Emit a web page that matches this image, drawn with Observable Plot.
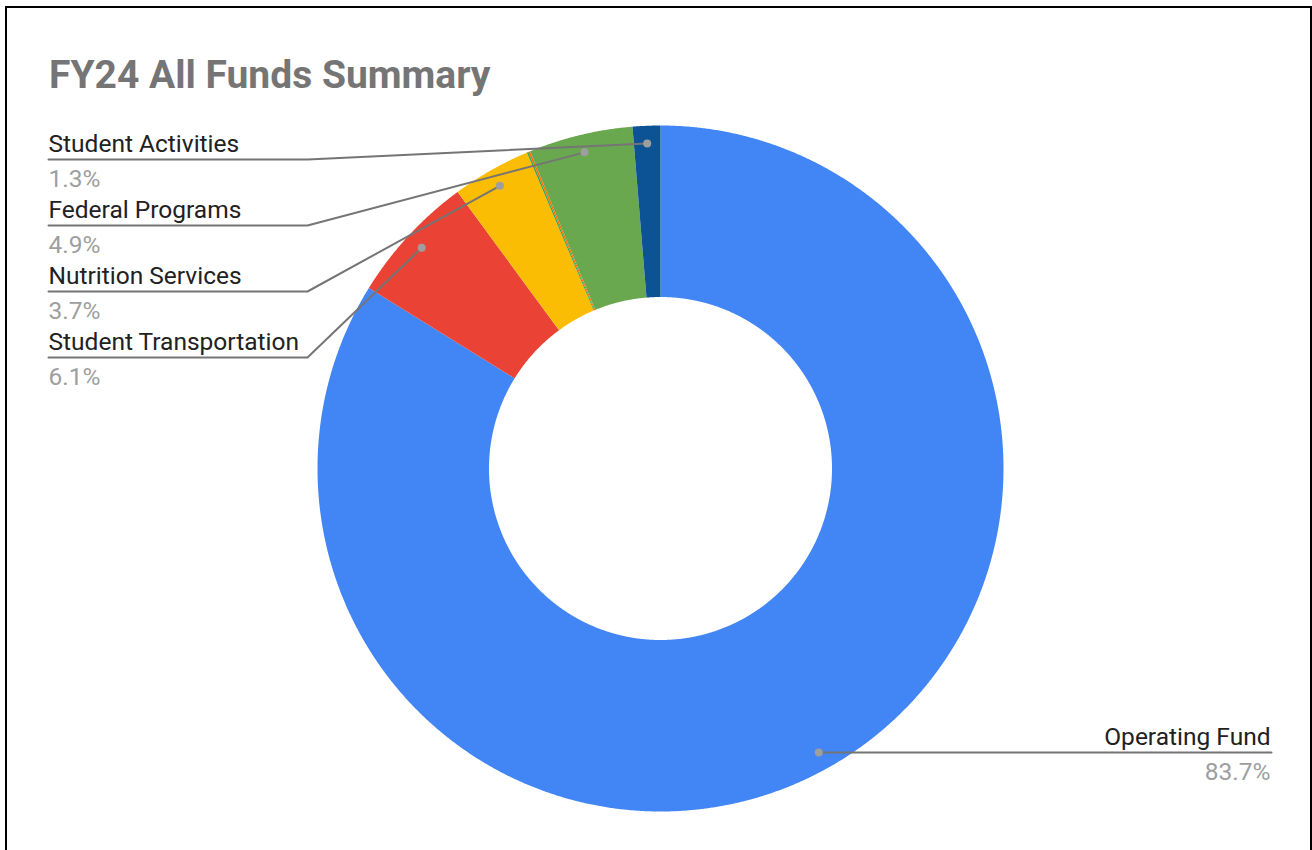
<!DOCTYPE html>
<html>
<head>
<meta charset="utf-8">
<script src="https://cdn.jsdelivr.net/npm/d3@7"></script>
<script src="https://cdn.jsdelivr.net/npm/@observablehq/plot@0.6"></script>
<style>
  html, body { margin: 0; padding: 0; background: #fff; }
  body { width: 1312px; height: 850px; overflow: hidden; position: relative; font-family: Roboto, "Noto Sans", sans-serif; }
  #frame { position: absolute; left: 5px; top: 6px; width: 1307px; height: 900px; border: 2px solid #000; box-sizing: border-box; }
  #title { position: absolute; left: 49px; top: 56px; font-family: Roboto, sans-serif; font-weight: 700; font-size: 39px; line-height: 39px; color: #757575; white-space: nowrap; }
  #chart { position: absolute; left: 0; top: 100px; }
</style>
</head>
<body>
<div id="frame"></div>
<div id="title">FY24 All Funds Summary</div>
<div id="chart"></div>
<script>
// ---- data (percent of all funds, clockwise from 12 o'clock) ----
const categories = ["Operating Fund", "Student Transportation", "Nutrition Services", "Other (a)", "Other (b)", "Federal Programs", "Student Activities"];
const shares = [83.7, 6.1, 3.7, 0.08, 0.08, 4.9, 1.3];
const colors = ["#4285F4", "#EA4335", "#FBBC04", "#34A853", "#FF6D01", "#6AA84F", "#0B5394"];
const leftLabels = ["Student Activities", "Federal Programs", "Nutrition Services", "Student Transportation"];
const rightLabels = ["Operating Fund"];

// ---- layout (page pixels) ----
const W = 1312, H = 750, TOP = 100;
const CX = 660, CY = 468, R = 343, INNER = 0.5, DOT_R = 0.948;
const ux = px => (px - CX) / R;
const uy = py => (CY - py) / R;

const arcs = d3.pie().sort(null).value(d => d)(shares);

// slice outlines in unit coordinates
const ring = [];
arcs.forEach((a, i) => {
  const n = Math.max(2, Math.ceil((a.endAngle - a.startAngle) / 0.004));
  for (let k = 0; k <= n; k++) {
    const t = a.startAngle + (a.endAngle - a.startAngle) * k / n;
    ring.push({name: categories[i], x: Math.sin(t), y: Math.cos(t)});
  }
  for (let k = n; k >= 0; k--) {
    const t = a.startAngle + (a.endAngle - a.startAngle) * k / n;
    ring.push({name: categories[i], x: INNER * Math.sin(t), y: INNER * Math.cos(t)});
  }
});

// label anchors
const anchor = name => {
  const a = arcs[categories.indexOf(name)];
  const m = (a.startAngle + a.endAngle) / 2;
  return {x: DOT_R * Math.sin(m), y: DOT_R * Math.cos(m)};
};
const pct = name => shares[categories.indexOf(name)].toFixed(1) + "%";

const leaders = [], dots = [], namesL = [], pctsL = [], namesR = [], pctsR = [];
leftLabels.forEach((name, i) => {
  const lineY = 159 + 66 * i;
  const p = anchor(name);
  dots.push({name, ...p});
  leaders.push({name, x: p.x, y: p.y}, {name, x: ux(307), y: uy(lineY)}, {name, x: ux(48), y: uy(lineY)});
  namesL.push({text: name, x: ux(48), y: uy(lineY - 8)});
  pctsL.push({text: pct(name), x: ux(48), y: uy(lineY + 27)});
});
rightLabels.forEach(name => {
  const p = anchor(name);
  const lineY = CY - p.y * R;
  dots.push({name, ...p});
  leaders.push({name, x: p.x, y: p.y}, {name, x: ux(1271), y: p.y});
  namesR.push({text: name, x: ux(1270), y: uy(lineY - 8)});
  pctsR.push({text: pct(name), x: ux(1270), y: uy(lineY + 27)});
});

const txt = (data, anchorSide, color) => Plot.text(data, {
  x: "x", y: "y", text: "text", textAnchor: anchorSide, lineAnchor: "bottom",
  fontSize: 24.5, fill: color, fontFamily: "Roboto"
});

const chart = Plot.plot({
  width: W,
  height: H,
  margin: 0,
  x: {domain: [ux(0), ux(W)], axis: null},
  y: {domain: [uy(TOP + H), uy(TOP)], axis: null},
  color: {domain: categories, range: colors},
  style: {background: "transparent", overflow: "visible"},
  marks: [
    Plot.line(ring, {x: "x", y: "y", z: "name", fill: "name", stroke: null, curve: "linear"}),
    Plot.line(leaders, {x: "x", y: "y", z: "name", stroke: "#757575", strokeWidth: 2}),
    Plot.dot(dots, {x: "x", y: "y", r: 4, fill: "#9e9e9e", stroke: null}),
    txt(namesL, "start", "#212121"),
    txt(pctsL, "start", "#9e9e9e"),
    txt(namesR, "end", "#212121"),
    txt(pctsR, "end", "#9e9e9e")
  ]
});
document.getElementById("chart").appendChild(chart);
</script>
</body>
</html>
